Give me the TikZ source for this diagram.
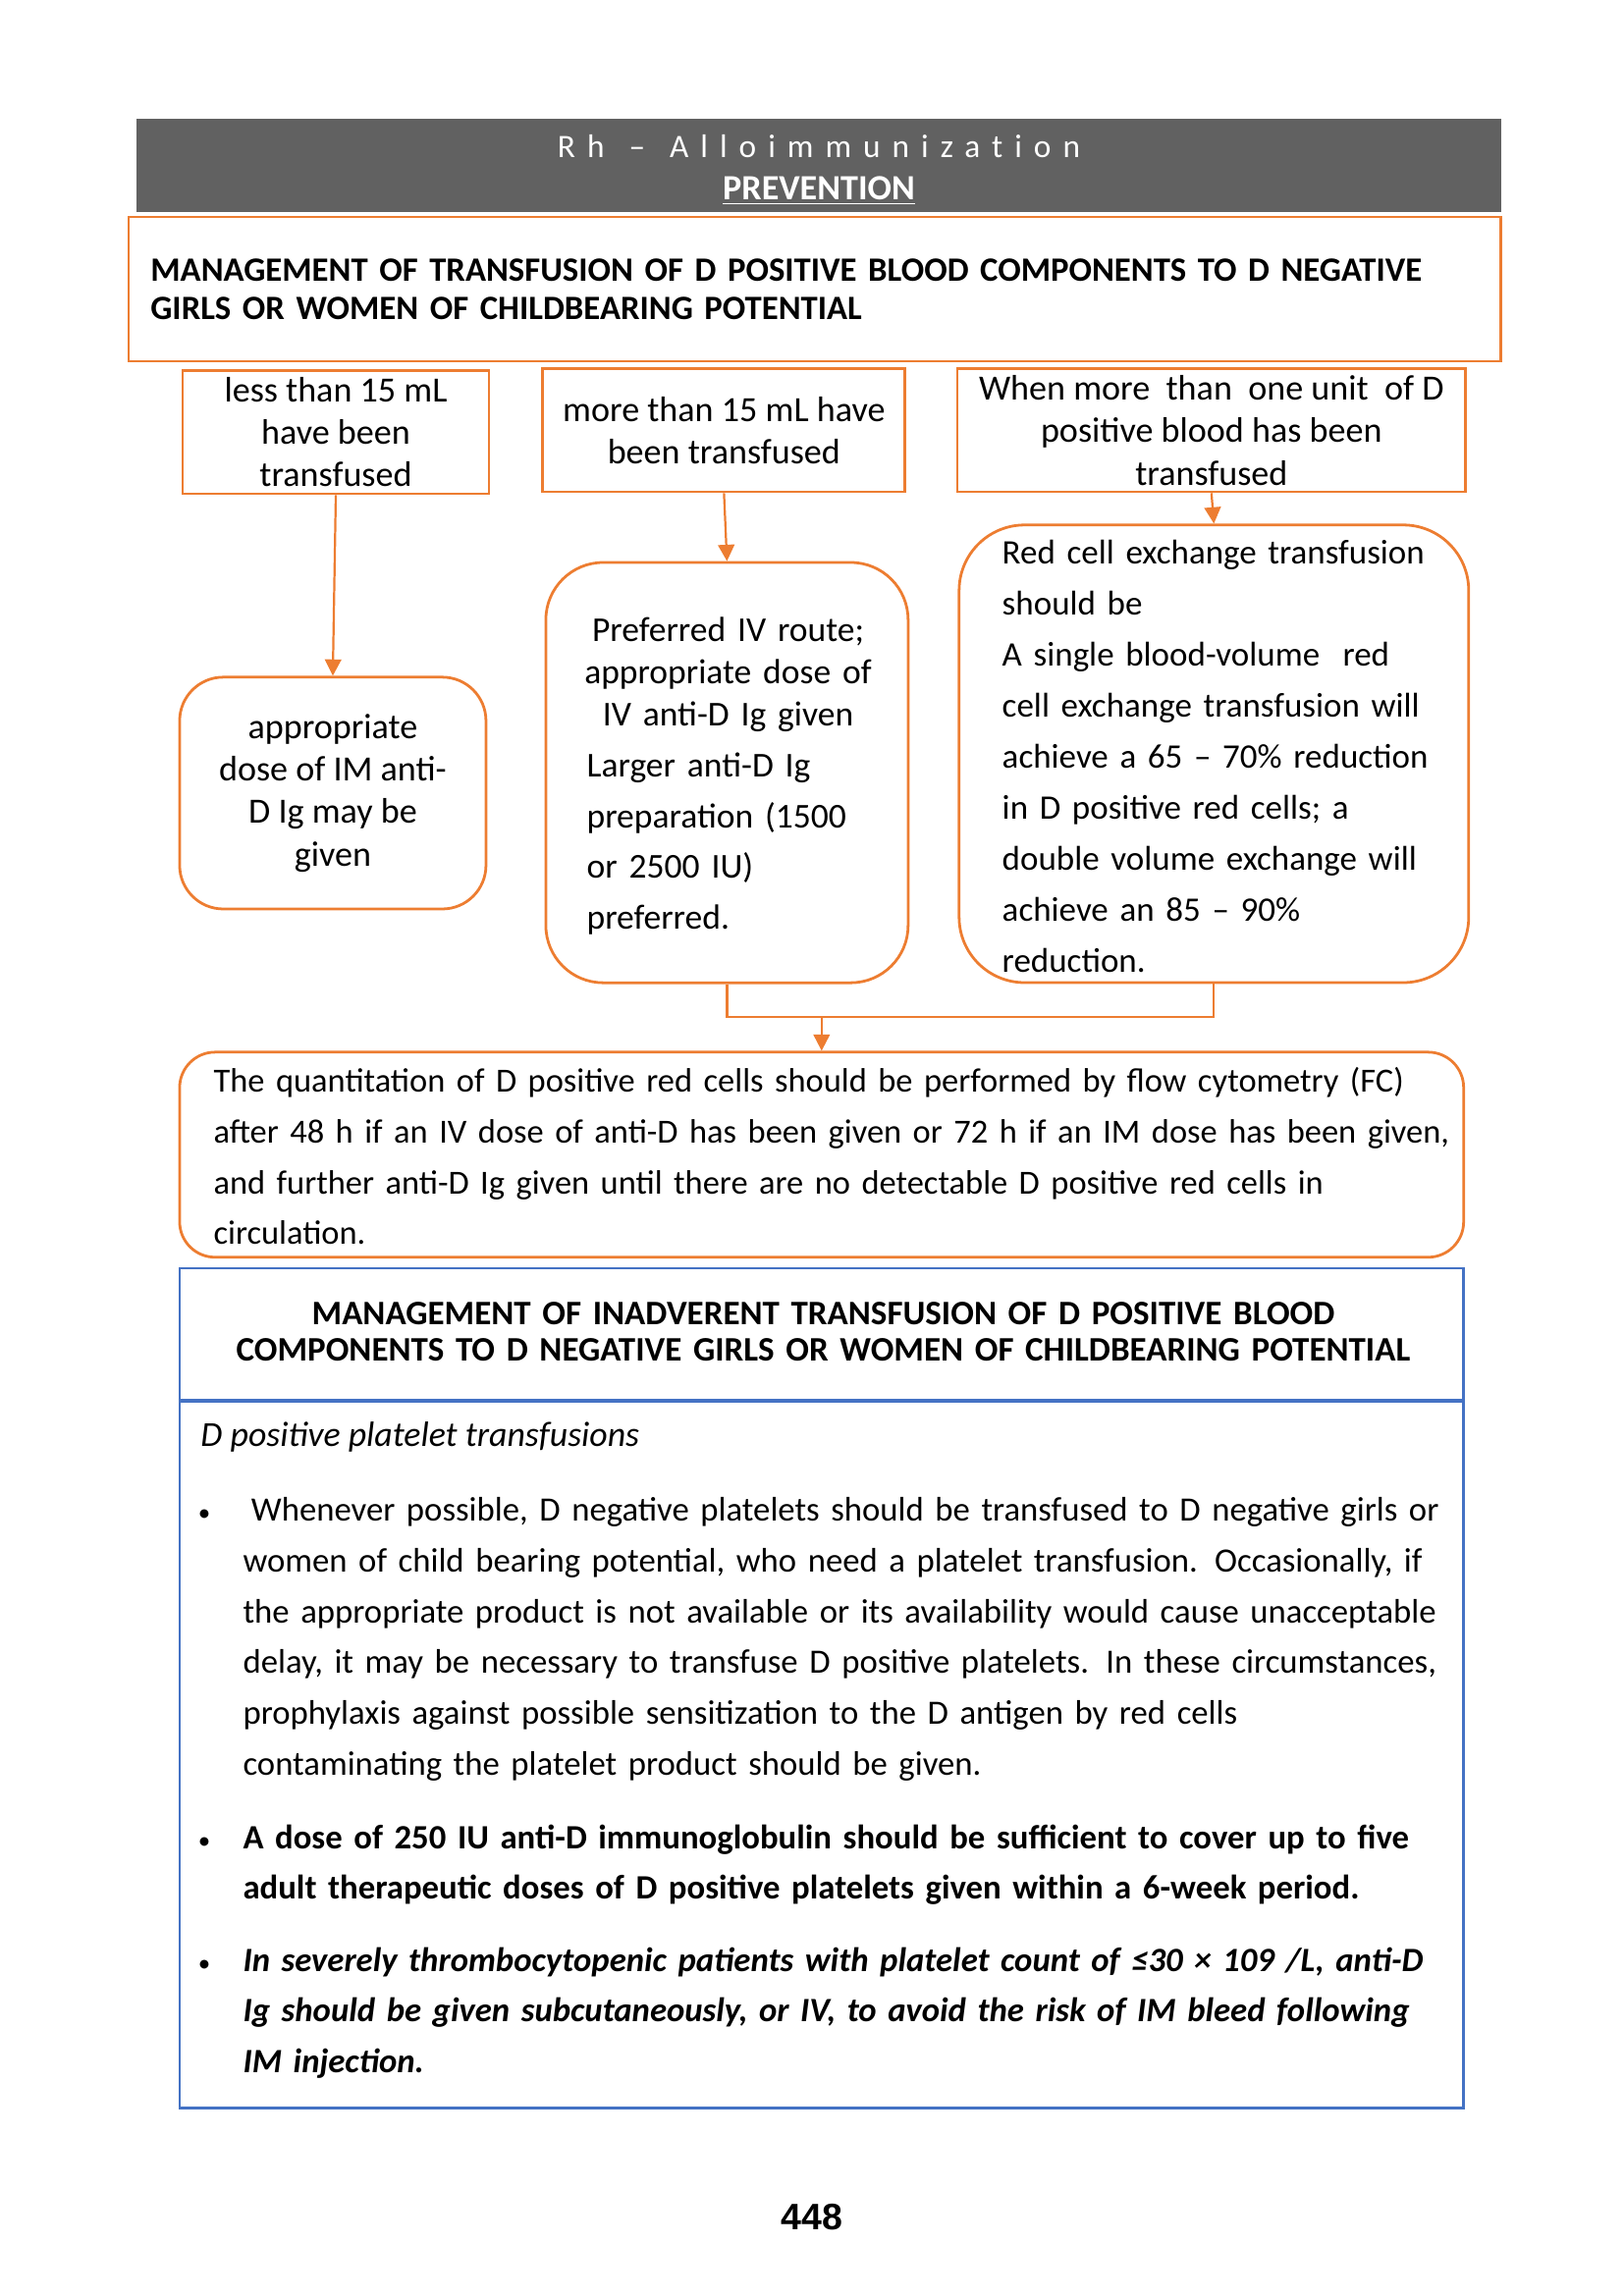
\documentclass[tikz,border=0pt]{standalone}
\usepackage{fontspec}
\setmainfont{Carlito}
\newfontfamily\pagefont{Liberation Sans}
\usetikzlibrary{arrows.meta}
\definecolor{rhorange}{HTML}{ED7D31}
\definecolor{rhblue}{HTML}{4472C4}
\definecolor{rhgray}{HTML}{616161}
\newcommand{\boxfont}{\fontsize{13}{15.6}\selectfont}
\newcommand{\parafont}{\fontsize{12.5}{18.6}\selectfont}
\newcommand{\itemdot}{\llap{\normalfont\fontsize{9}{9}\selectfont\textbullet\hspace{12pt}}}
\newcommand{\wideletters}{\addfontfeature{LetterSpace=36,Ligatures=NoCommon}}

\begin{document}
\begin{tikzpicture}[
  x=1pt, y=-1pt,
  obox/.style={draw=rhorange, line width=1pt, fill=white, inner sep=2pt, align=center, font=\boxfont},
  rbox/.style={obox, rounded corners=#1},
  rbox/.default=16pt,
  arr/.style={-{Triangle[length=6pt,width=6pt]}, rhorange, line width=0.8pt},
  link/.style={rhorange, line width=0.8pt},
  bbox/.style={draw=rhblue, line width=1pt},
  para/.style={anchor=base west, inner sep=0pt, text width=#1, align=left, font=\parafont},
]
\useasboundingbox (0,0) rectangle (595.3,841.9);

% page heading
\node[fill=rhgray, minimum width=500.3pt, minimum height=34.2pt, inner sep=0pt] (head) at (300.2,60.6) {};
\node[anchor=base, text=white, inner sep=0pt, text width=400pt, align=center,
      font=\fontsize{12}{15.5}\selectfont] (headtxt) at (300.2,57.6)
  {{\wideletters Rh}\hspace{9pt}{\wideletters --}\hspace{9pt}{\wideletters Alloimmunization}\\{\fontsize{13}{15.5}\selectfont\bfseries\underline{PREVENTION}}};

% first chart
\node[obox, minimum width=503.1pt, minimum height=52.9pt, text width=487pt, align=left,
      font=\bfseries\fontsize{12.5}{14}\selectfont] (mgmt) at (298.7,106.0)
  {MANAGEMENT OF TRANSFUSION OF D POSITIVE BLOOD COMPONENTS TO D NEGATIVE\\GIRLS OR WOMEN OF CHILDBEARING POTENTIAL};

\node[obox, minimum width=112.3pt, minimum height=45.3pt] (lessA) at (123.1,158.4)
  {less than 15 mL\\have been\\transfused};
\node[obox, minimum width=132.8pt, minimum height=45.0pt] (moreB) at (265.4,157.8)
  {more than 15 mL have\\been transfused};
\node[obox, minimum width=186.4pt, minimum height=45.0pt] (unitC) at (444.1,157.8)
  {When more\ \ than\ \ one unit\ \ of D\\positive blood has been\\transfused};

\node[rbox, minimum width=112.3pt, minimum height=85.0pt] (imbox) at (122.0,290.8)
  {appropriate\\dose of IM anti-\\D Ig may be\\given};

\node[rbox=21pt, minimum width=132.8pt, minimum height=154.1pt] (ivbox) at (266.5,283.3) {};
\node[para=103.6pt, font=\fontsize{12.8}{18.6}\selectfont] (ivtxt) at (214.9,235.1)
  {{\fontsize{12.8}{15.6}\selectfont\makebox[\hsize]{Preferred IV route;}\\\makebox[\hsize]{appropriate dose of}\\\makebox[\hsize]{IV anti-D Ig given}\par}
   Larger anti-D Ig\\preparation (1500\\or 2500 IU)\\preferred.};

\node[rbox=24pt, minimum width=186.8pt, minimum height=167.8pt] (rcebox) at (445.0,276.4) {};
\node[para=175pt, font=\fontsize{12.6}{18.7}\selectfont] (rcetxt) at (367.2,206.9)
  {Red cell exchange transfusion\\should be\\A single blood-volume\ \ red\\cell exchange transfusion will\\
   achieve a 65 -- 70\% reduction\\in D positive red cells; a\\double volume exchange will\\
   achieve an 85 -- 90\%\\reduction.};

\coordinate (join) at (301.2,372.9);
\node[rbox=13pt, minimum width=470.7pt, minimum height=75.2pt] (fcbox) at (301.2,423.4) {};
\node[para=460pt, font=\fontsize{12.4}{18.6}\selectfont] (fctxt) at (78.1,400.6)
  {The quantitation of D positive red cells should be performed by flow cytometry (FC)\\
   after 48 h if an IV dose of anti-D has been given or 72 h if an IM dose has been given,\\
   and further anti-D Ig given until there are no detectable D positive red cells in\\circulation.};

\draw[arr] (lessA.south) -- (imbox.north);
\draw[arr] (moreB.south) -- (ivbox.north);
\draw[arr] (unitC.south) -- (rcebox.north);
\draw[link] (ivbox.south) |- (join) -| (rcebox.south);
\draw[arr] (join) -- (fcbox.north);

% inadvertent transfusion panel
\node[bbox, minimum width=470.7pt, minimum height=307.9pt, inner sep=0pt] (inadv) at (301.25,618.95) {};
\coordinate (divy) at (0,513.6);
\draw[rhblue, line width=1.6pt] (inadv.west |- divy) -- (inadv.east |- divy);
\node[anchor=base, inner sep=0pt, text width=460pt, align=center, font=\bfseries\fontsize{12.6}{13.3}\selectfont] (inhead) at (301.8,485.9)
  {MANAGEMENT OF INADVERENT TRANSFUSION OF D POSITIVE BLOOD\\COMPONENTS TO D NEGATIVE GIRLS OR WOMEN OF CHILDBEARING POTENTIAL};
\node[anchor=base west, inner sep=0pt, font=\itshape\fontsize{12.9}{13}\selectfont] (subhd) at (73.4,530.2)
  {D positive platelet transfusions};

\node[para=460pt] (bulA) at (88.9,557.8)
  {\itemdot\hspace{3pt}Whenever possible, D negative platelets should be transfused to D negative girls or\\
   women of child bearing potential, who need a platelet transfusion. Occasionally, if\\
   the appropriate product is not available or its availability would cause unacceptable\\
   delay, it may be necessary to transfuse D positive platelets. In these circumstances,\\
   prophylaxis against possible sensitization to the D antigen by red cells\\
   contaminating the platelet product should be given.};
\node[para=460pt, font=\bfseries\parafont] (bulB) at (88.9,677.8)
  {\itemdot A dose of 250 IU anti-D immunoglobulin should be sufficient to cover up to five\\
   adult therapeutic doses of D positive platelets given within a 6-week period.};
\node[para=460pt, font=\bfseries\itshape\parafont] (bulC) at (88.9,722.8)
  {\itemdot In severely thrombocytopenic patients with platelet count of ≤30 × 109 /L, anti-D\\
   Ig should be given subcutaneously, or IV, to avoid the risk of IM bleed following\\
   IM injection.};

% page number
\node[anchor=base, font=\pagefont\bfseries\fontsize{13.5}{16}\selectfont] (pgno) at (297.6,817.7) {448};

\end{tikzpicture}
\end{document}
